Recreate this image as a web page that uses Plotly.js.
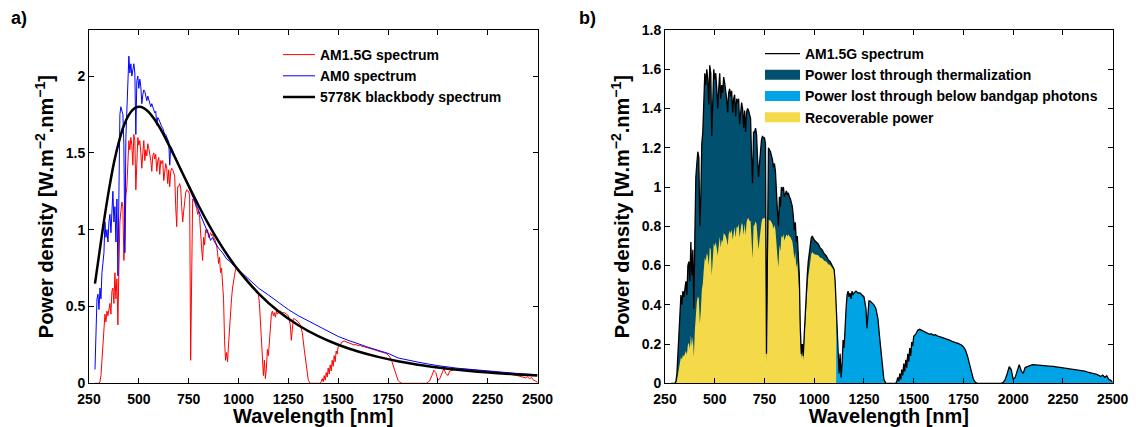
<!DOCTYPE html>
<html><head><meta charset="utf-8">
<script src="https://cdn.plot.ly/plotly-3.0.1.min.js"></script>
<style>html,body{margin:0;padding:0;background:#fff;}#chart{width:1136px;height:427px;}</style>
</head><body><div id="chart"></div>
<script>
// ---------- data ----------
const am15Wavelength = [
280,285,290,295,300,305,310,315,320,325,330,335,340,345,350,355,360,365,370,375,380,385,390,395,
400,405,410,415,420,425,430,435,440,445,450,455,460,465,470,475,480,485,490,495,
500,505,510,515,520,525,530,535,540,545,550,555,560,565,570,575,580,585,590,595,
600,605,610,615,620,625,630,635,640,645,650,655,660,665,670,675,680,685,690,695,
700,705,710,715,720,725,730,735,740,745,750,755,760,765,770,775,780,785,790,795,
800,805,810,815,820,825,830,835,840,845,850,855,860,865,870,875,880,885,890,895,
900,905,910,915,920,925,930,935,940,945,950,955,960,965,970,975,980,985,990,995,
1000,1010,1020,1030,1040,1050,1060,1070,1080,1090,1100,1105,1110,
1115,1120,1125,1130,1135,1140,1145,1150,1155,1160,1165,1170,1175,1180,1185,1190,1195,1200,
1210,1220,1230,1240,1250,1260,1265,1270,1275,
1280,1290,1300,1310,1320,1330,1340,1350,1360,1380,1400,1410,
1415,1420,1425,1430,1435,1440,1445,1450,1455,1460,1465,1470,1475,1480,1485,1490,1495,1500,
1510,1520,1530,1540,1550,1560,1570,1580,1590,1600,1610,1620,1630,1640,1650,1660,1670,1680,1690,1700,
1710,1720,1730,1740,1750,1760,1770,1780,1790,1800,1810,1820,1850,1900,1940,1950,
1960,1970,1980,1990,2000,2010,2020,2030,2040,2050,2060,2070,2080,2090,2100,
2120,2140,2160,2180,2200,2220,2240,2260,2280,2300,2320,2340,2360,2380,2400,2420,2440,
2450,2460,2470,2480,2490,2500];
const am15Power = [
0,0,0,0,0,0.01,0.05,0.15,0.25,0.33,0.45,0.40,0.47,0.44,0.50,0.52,0.45,0.60,0.62,0.52,0.72,0.55,0.68,0.38,
0.75,1.05,1.12,1.18,1.15,0.80,0.95,1.22,1.28,1.45,1.58,1.52,1.60,1.55,1.42,1.62,1.58,1.26,1.52,1.60,
1.55,1.58,1.50,1.40,1.50,1.58,1.45,1.52,1.48,1.56,1.53,1.50,1.45,1.38,1.48,1.50,1.46,1.49,1.38,1.45,
1.47,1.36,1.45,1.43,1.45,1.32,1.40,1.43,1.40,1.30,1.39,1.28,1.38,1.40,1.39,1.36,1.35,1.15,1.02,1.28,
1.28,1.30,1.27,1.15,1.05,1.12,1.20,1.24,1.26,1.25,1.25,1.22,0.15,0.80,1.20,1.19,1.18,1.16,1.14,1.10,
1.12,1.08,0.95,0.88,0.80,0.95,0.90,1.00,0.98,1.00,0.95,0.97,0.98,0.96,0.97,0.95,0.94,0.92,0.90,0.85,
0.78,0.82,0.72,0.75,0.62,0.55,0.28,0.15,0.20,0.14,0.25,0.38,0.45,0.55,0.62,0.68,0.70,0.74,0.75,0.74,
0.73,0.72,0.71,0.69,0.68,0.66,0.65,0.63,0.62,0.60,0.58,0.52,0.40,
0.25,0.12,0.05,0.15,0.03,0.10,0.22,0.18,0.30,0.38,0.45,0.47,0.44,0.46,0.43,0.47,0.45,0.46,
0.47,0.46,0.46,0.45,0.44,0.38,0.28,0.35,0.42,
0.42,0.41,0.40,0.38,0.33,0.22,0.10,0.02,0,0,0,0,
0.01,0.03,0.01,0.05,0.02,0.07,0.04,0.10,0.06,0.12,0.08,0.15,0.11,0.18,0.14,0.21,0.19,0.24,
0.25,0.27,0.275,0.27,0.265,0.26,0.255,0.25,0.252,0.245,0.248,0.24,0.238,0.235,0.232,0.228,0.225,0.22,0.215,0.21,
0.207,0.205,0.20,0.195,0.185,0.17,0.14,0.10,0.05,0.02,0.005,0,0,0,0,0.005,
0.02,0.05,0.085,0.07,0.02,0.03,0.07,0.095,0.065,0.05,0.08,0.085,0.09,0.093,0.095,
0.094,0.092,0.09,0.088,0.086,0.083,0.081,0.078,0.075,0.072,0.068,0.065,0.062,0.055,0.05,0.045,0.035,
0.042,0.03,0.038,0.02,0.015,0.005];

const am0Wavelength = [
280,285,290,295,300,305,310,315,320,325,330,335,340,345,350,355,360,365,370,375,380,385,390,395,
400,405,410,415,420,425,430,435,440,445,450,455,460,465,470,475,480,485,490,495,
500,505,510,515,520,525,530,535,540,545,550,555,560,565,570,575,580,585,590,595,
600,605,610,615,620,625,630,635,640,645,650,655,660,665,670,675,680,685,690,695,700,
710,720,730,740,750,760,770,780,790,800,810,820,830,840,850,860,870,880,890,900,
920,940,960,980,1000,1025,1050,1075,1100,
1150,1200,1250,1300,1350,1400,1450,1500,1550,1600,1650,1700,1750,1800,1850,1900,1950,2000,
2100,2200,2300,2400,2500];
const am0Power = [
0.09,0.30,0.55,0.58,0.48,0.62,0.55,0.72,0.78,0.85,1.05,0.95,1.00,0.92,1.05,1.10,0.98,1.15,1.25,1.05,1.15,0.92,1.20,0.70,
1.50,1.75,1.80,1.78,1.75,1.55,0.85,1.60,1.80,1.95,2.13,2.02,2.08,2.00,2.05,2.08,2.02,1.62,1.97,2.00,
1.92,1.98,1.93,1.82,1.88,1.91,1.90,1.86,1.84,1.87,1.85,1.83,1.80,1.82,1.79,1.78,1.76,1.77,1.68,1.73,
1.72,1.70,1.68,1.67,1.66,1.64,1.62,1.62,1.60,1.58,1.57,1.42,1.54,1.53,1.51,1.50,1.48,1.47,1.45,1.44,1.42,
1.40,1.37,1.34,1.31,1.28,1.25,1.22,1.19,1.16,1.13,1.10,1.07,1.04,1.01,0.97,0.93,0.95,0.92,0.90,0.88,
0.85,0.81,0.79,0.76,0.74,0.71,0.68,0.65,0.62,
0.575,0.525,0.48,0.44,0.405,0.37,0.335,0.305,0.28,0.255,0.235,0.215,0.195,0.165,0.15,0.138,0.126,0.115,
0.098,0.085,0.074,0.064,0.056];

const blackbodyWavelength = [280,300,325,350,375,400,425,450,475,500,525,550,600,650,700,750,800,850,900,950,1000,
1100,1200,1300,1400,1500,1600,1700,1800,1900,2000,2100,2200,2300,2400,2500];
const blackbodyPower = [0.649,0.831,1.056,1.259,1.435,1.572,1.678,1.748,1.788,1.800,1.792,1.765,1.675,1.554,1.420,1.285,1.156,1.035,0.924,0.824,0.735,
0.586,0.469,0.378,0.307,0.251,0.207,0.172,0.144,0.121,0.103,0.088,0.076,0.066,0.058,0.051];

// recoverable power, same wavelength grid as am15Wavelength from 280 nm up to the bandgap (1110 nm)
const recoverablePower = [
0,0,0,0,0,0.003,0.014,0.043,0.072,0.097,0.134,0.121,0.144,0.137,0.158,0.166,0.146,0.197,0.207,0.176,0.246,0.191,0.239,0.135,
0.270,0.383,0.414,0.441,0.435,0.306,0.368,0.478,0.507,0.581,0.641,0.623,0.663,0.649,0.601,0.693,0.683,0.550,0.671,0.713,
0.698,0.719,0.689,0.650,0.703,0.747,0.692,0.733,0.720,0.766,0.758,0.750,0.732,0.702,0.760,0.777,0.763,0.785,0.733,0.777,
0.795,0.741,0.797,0.792,0.810,0.743,0.795,0.818,0.807,0.755,0.814,0.755,0.821,0.839,0.839,0.827,0.827,0.710,0.634,0.801,
0.807,0.826,0.812,0.741,0.681,0.732,0.789,0.821,0.840,0.839,0.845,0.830,0.103,0.551,0.832,0.831,0.829,0.820,0.811,0.788,
0.807,0.783,0.693,0.646,0.591,0.706,0.673,0.752,0.742,0.761,0.728,0.747,0.759,0.748,0.760,0.749,0.745,0.734,0.722,0.685,
0.632,0.669,0.590,0.618,0.514,0.458,0.235,0.126,0.169,0.119,0.214,0.327,0.389,0.478,0.542,0.597,0.618,0.657,0.669,0.663,
0.658,0.655,0.652,0.640,0.637,0.624,0.621,0.607,0.603,0.589,0.575,0.518,0.400];

const bandgapNm = 1110;
const xTickValues = [250,500,750,1000,1250,1500,1750,2000,2250,2500];
const xTickLabels = ['250','500','750','1000','1250','1500','1750','2000','2250','2500'];
const yTickValuesA = [0,0.5,1,1.5,2];
const yTickLabelsA = ['0','0.5','1','1.5','2'];
const yTickValuesB = [0,0.2,0.4,0.6,0.8,1,1.2,1.4,1.6,1.8];
const yTickLabelsB = ['0','0.2','0.4','0.6','0.8','1','1.2','1.4','1.6','1.8'];
const seriesNamesA = ['AM1.5G spectrum','AM0 spectrum','5778K blackbody spectrum'];
const seriesNamesB = ['AM1.5G spectrum','Power lost through thermalization','Power lost through below bandgap photons','Recoverable power'];

// ---------- derived selections ----------
const aboveIdx = am15Wavelength.map((w,i)=>i).filter(i=>am15Wavelength[i] <= bandgapNm);
const belowIdx = am15Wavelength.map((w,i)=>i).filter(i=>am15Wavelength[i] >= bandgapNm);
const recoverableWavelength = am15Wavelength.slice(0, recoverablePower.length);

// ---------- styling ----------
const FONT = 'Liberation Sans, Arial, Helvetica, sans-serif';
const tickFont = {family: FONT, size: 14, color: '#000', weight: 700};
const titleFont = {family: FONT, size: 20, color: '#000', weight: 700};
const COL_DARK = '#01506F', COL_LIGHT = '#00A4E4', COL_YELLOW = '#F4DA48';

function xAxis(domain, anchor) {
  return {domain, anchor, range:[250,2500], tickmode:'array', tickvals:xTickValues, ticktext:xTickLabels,
    ticks:'inside', ticklen:5, tickwidth:1, tickcolor:'#000', showline:true, linecolor:'#000', linewidth:1,
    mirror:'ticks', showgrid:false, zeroline:false, tickfont:tickFont, automargin:false, ticklabelstandoff:3,
    title:{text:'Wavelength [nm]', font:titleFont, standoff:0}};
}
function yAxis(domain, anchor, range, vals, labels) {
  return {domain, anchor, range, tickmode:'array', tickvals:vals, ticktext:labels,
    ticks:'inside', ticklen:5, tickwidth:1, tickcolor:'#000', showline:true, linecolor:'#000', linewidth:1,
    mirror:'ticks', showgrid:false, zeroline:false, tickfont:tickFont, automargin:false,
    title:{text:'Power density [W.m<sup>\u22122</sup>.nm<sup>\u22121</sup>]', font:titleFont, standoff:6}};
}

const traces = [
  {x:am15Wavelength, y:am15Power, xaxis:'x', yaxis:'y', mode:'lines', name:seriesNamesA[0],
   line:{color:'#FF0000', width:1}, legend:'legend'},
  {x:am0Wavelength, y:am0Power, xaxis:'x', yaxis:'y', mode:'lines', name:seriesNamesA[1],
   line:{color:'#0000FF', width:1}, legend:'legend'},
  {x:blackbodyWavelength, y:blackbodyPower, xaxis:'x', yaxis:'y', mode:'lines', name:seriesNamesA[2],
   line:{color:'#000', width:2.5, shape:'spline'}, legend:'legend'},

  {x:aboveIdx.map(i=>am15Wavelength[i]), y:aboveIdx.map(i=>am15Power[i]), xaxis:'x2', yaxis:'y2',
   mode:'lines', fill:'tozeroy', fillcolor:COL_DARK, line:{width:0, color:COL_DARK}, showlegend:false},
  {x:recoverableWavelength, y:recoverablePower, xaxis:'x2', yaxis:'y2',
   mode:'lines', fill:'tozeroy', fillcolor:COL_YELLOW, line:{width:0, color:COL_YELLOW}, showlegend:false},
  {x:belowIdx.map(i=>am15Wavelength[i]), y:belowIdx.map(i=>am15Power[i]), xaxis:'x2', yaxis:'y2',
   mode:'lines', fill:'tozeroy', fillcolor:COL_LIGHT, line:{width:0, color:COL_LIGHT}, showlegend:false},
  {x:am15Wavelength, y:am15Power, xaxis:'x2', yaxis:'y2', mode:'lines', name:seriesNamesB[0],
   line:{color:'#000', width:1.3}, legend:'legend2'},
  {x:[null], y:[null], xaxis:'x2', yaxis:'y2', mode:'lines', name:seriesNamesB[1],
   line:{color:COL_DARK, width:10}, legend:'legend2'},
  {x:[null], y:[null], xaxis:'x2', yaxis:'y2', mode:'lines', name:seriesNamesB[2],
   line:{color:COL_LIGHT, width:10}, legend:'legend2'},
  {x:[null], y:[null], xaxis:'x2', yaxis:'y2', mode:'lines', name:seriesNamesB[3],
   line:{color:COL_YELLOW, width:10}, legend:'legend2'}
];

const W = 1136, H = 427;
const yDom = [(H-383.3)/H, (H-30)/H];
const layout = {
  width:W, height:H, margin:{l:0,r:0,t:0,b:0}, paper_bgcolor:'#fff', plot_bgcolor:'#fff',
  showlegend:true,
  xaxis: xAxis([89/W, 537.5/W], 'y'),
  yaxis: yAxis(yDom, 'x', [0,2.3], yTickValuesA, yTickLabelsA),
  xaxis2: xAxis([665/W, 1112.7/W], 'y2'),
  yaxis2: yAxis(yDom, 'x2', [0,1.8], yTickValuesB, yTickLabelsB),
  legend: {x:278/W, y:(H-39)/H, xanchor:'left', yanchor:'top', bgcolor:'rgba(0,0,0,0)', borderwidth:0,
    font:{family:FONT, size:14, color:'#000', weight:700}, itemwidth:32, tracegroupgap:0},
  legend2: {x:760/W, y:(H-38)/H, xanchor:'left', yanchor:'top', bgcolor:'rgba(0,0,0,0)', borderwidth:0,
    font:{family:FONT, size:14, color:'#000', weight:700}, itemwidth:35, tracegroupgap:0},
  annotations:[
    {text:'a)', xref:'paper', yref:'paper', x:9/W, y:1-6/H, xanchor:'left', yanchor:'top', showarrow:false,
     font:{family:FONT, size:18, color:'#000', weight:700}},
    {text:'b)', xref:'paper', yref:'paper', x:577/W, y:1-6/H, xanchor:'left', yanchor:'top', showarrow:false,
     font:{family:FONT, size:18, color:'#000', weight:700}}
  ]
};
Plotly.newPlot('chart', traces, layout, {staticPlot:true, displayModeBar:false});
</script></body></html>
